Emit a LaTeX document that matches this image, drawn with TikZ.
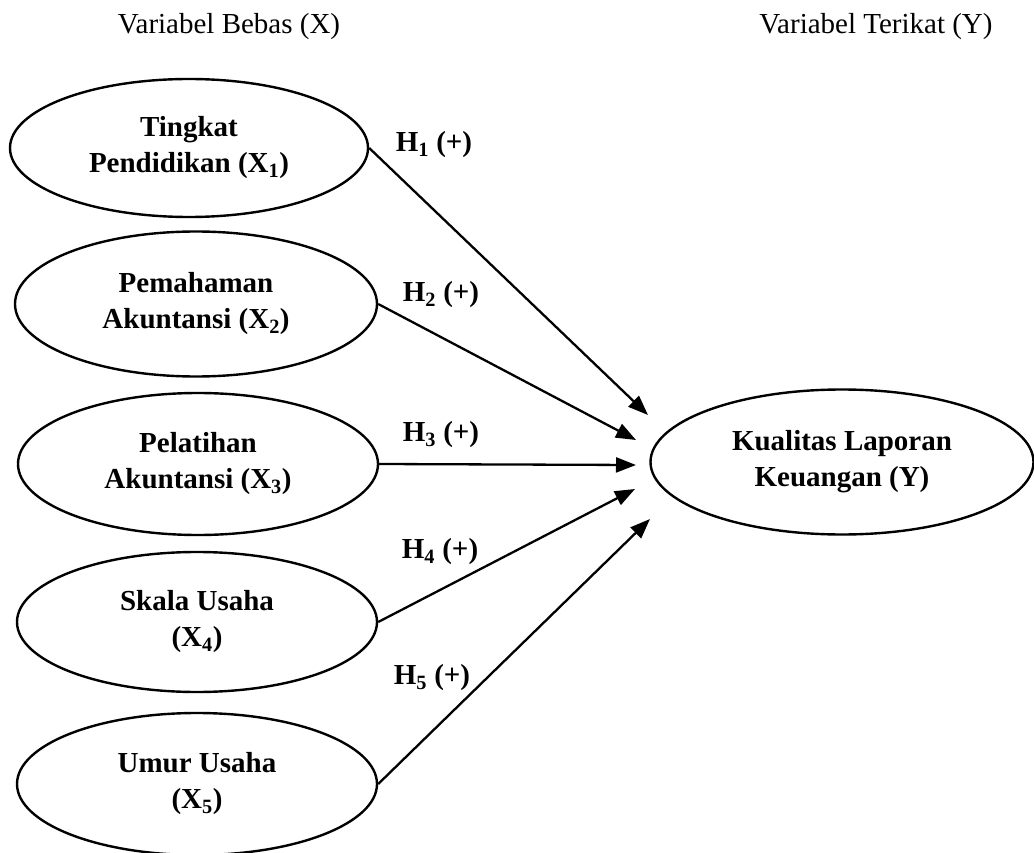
\documentclass[tikz,border=0pt]{standalone}
\usepackage{fontspec}
\setmainfont{Liberation Serif}
\usetikzlibrary{shapes}
\usetikzlibrary{positioning}
\usetikzlibrary{arrows.meta}
\tikzset{
    varnode/.style = {ellipse, line width=2.4pt, draw=black, align=center, inner sep=0pt, minimum width=360pt, minimum height=142pt, font=\fontsize{29}{36}\selectfont\bfseries, text=black},
    varnodey/.style = {varnode, minimum width=383pt, minimum height=145pt},
    hlabel/.style = {font=\fontsize{29}{36}\selectfont\bfseries, text=black},
    headlabel/.style = {font=\fontsize{29}{36}\selectfont, text=black},
    edgea/.style = {-{Triangle[length=20pt,width=15pt]}, line width=2.3pt, black}
}

\begin{document}
\begin{tikzpicture}[x=1pt, y=-1pt]
  \useasboundingbox (0,0) rectangle (1034,853);
  % headings
  \node[headlabel] (hx) at (229,27) {Variabel Bebas (X)};
  \node[headlabel] (hy) at (876,27) {Variabel Terikat (Y)};
  % independent variables
  \node[varnode, minimum width=358pt, minimum height=138pt] (x1) at (189,148) {Tingkat\\Pendidikan (X\textsubscript{1})};
  \node[varnode, minimum width=362pt, minimum height=145pt] (x2) at (196,304) {Pemahaman\\Akuntansi (X\textsubscript{2})};
  \node[varnode] (x3) at (198,464) {Pelatihan\\Akuntansi (X\textsubscript{3})};
  \node[varnode, minimum height=140pt] (x4) at (197,622) {Skala Usaha\\(X\textsubscript{4})};
  \node[varnode] (x5) at (197,784) {Umur Usaha\\(X\textsubscript{5})};
  % dependent variable
  \node[varnodey] (y) at (842,462) {Kualitas Laporan\\Keuangan (Y)};
  % arrow ends
  \coordinate (e1) at (648,415);
  \coordinate (e2) at (636,440);
  \coordinate (e3) at (636,465);
  \coordinate (e4) at (635,489);
  \coordinate (e5) at (650,519);
  \draw[edgea] (x1.east) -- (e1);
  \draw[edgea] (x2.east) -- (e2);
  \draw[edgea] (x3.east) -- (e3);
  \draw[edgea] (x4.east) -- (e4);
  \draw[edgea] (x5.east) -- (e5);
  % hypotheses
  \node[hlabel] (h1) at (434,145) {H\textsubscript{1} (+)};
  \node[hlabel] (h2) at (441,295) {H\textsubscript{2} (+)};
  \node[hlabel] (h3) at (441,435) {H\textsubscript{3} (+)};
  \node[hlabel] (h4) at (440,552) {H\textsubscript{4} (+)};
  \node[hlabel] (h5) at (432,678) {H\textsubscript{5} (+)};
\end{tikzpicture}
\end{document}
